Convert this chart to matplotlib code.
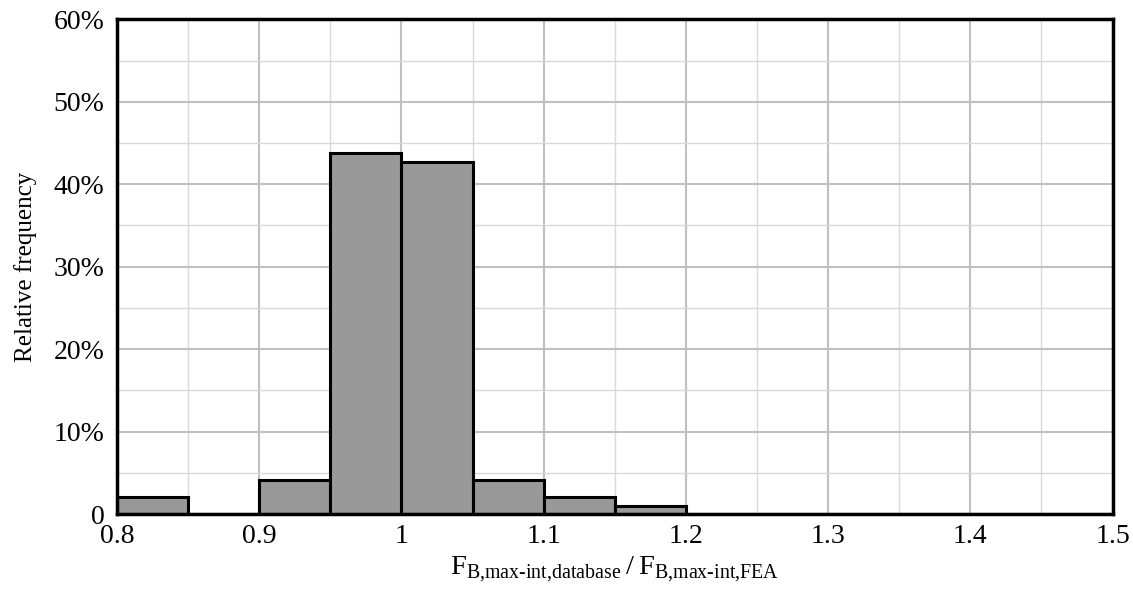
import matplotlib.pyplot as plt
import numpy as np
from matplotlib.ticker import MultipleLocator, FuncFormatter

plt.rcParams['font.family'] = ['Liberation Serif', 'DejaVu Serif']
plt.rcParams['mathtext.fontset'] = 'custom'
plt.rcParams['mathtext.rm'] = 'Liberation Serif'

# bin edges (left) and relative frequency in %, n = 96 samples
bin_left = [0.80, 0.85, 0.90, 0.95, 1.00, 1.05, 1.10, 1.15,
            1.20, 1.25, 1.30, 1.35, 1.40, 1.45]
counts = [2, 0, 4, 42, 41, 4, 2, 1, 0, 0, 0, 0, 0, 0]
bin_width = 0.05
freq = [100.0 * c / sum(counts) for c in counts]

fig, ax = plt.subplots(figsize=(11.33, 6.02), dpi=100)
fig.subplots_adjust(left=0.1033, right=0.982, top=0.968, bottom=0.146)

ax.bar(bin_left, freq, width=bin_width, align='edge', color='#999999',
       edgecolor='black', linewidth=2.2, zorder=3)

ax.set_xlim(0.8, 1.5)
ax.set_ylim(0, 60)
ax.xaxis.set_major_locator(MultipleLocator(0.1))
ax.xaxis.set_minor_locator(MultipleLocator(0.05))
ax.yaxis.set_major_locator(MultipleLocator(10))
ax.yaxis.set_minor_locator(MultipleLocator(5))
ax.xaxis.set_major_formatter(FuncFormatter(lambda v, p: f'{v:g}'))
ax.yaxis.set_major_formatter(FuncFormatter(lambda v, p: '0' if v == 0 else f'{v:.0f}%'))

ax.grid(which='major', color='#c0c0c0', linewidth=1.5, zorder=0)
ax.grid(which='minor', color='#d9d9d9', linewidth=1.0, zorder=0)
ax.set_axisbelow(True)
ax.tick_params(which='both', length=0, labelsize=20)
ax.tick_params(axis='y', pad=9)
ax.tick_params(axis='x', pad=7)

for s in ax.spines.values():
    s.set_linewidth(2.5)
    s.set_zorder(4)

ax.set_ylabel('Relative frequency', fontsize=18, labelpad=12)
ax.set_xlabel(r'$\mathrm{F}_{\mathrm{B{,}max\text{-}int{,}database}}\,/\,\mathrm{F}_{\mathrm{B{,}max\text{-}int{,}FEA}}$',
              fontsize=20.5, labelpad=4)

plt.savefig('out.png', dpi=100)
